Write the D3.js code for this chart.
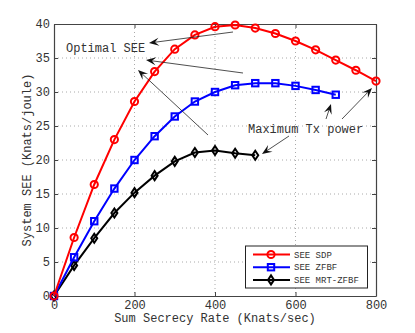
<!DOCTYPE html>
<html lang="en">
<head>
<meta charset="UTF-8">
<script src="https://d3js.org/d3.v7.min.js"></script>
<style>
  body { margin: 0; background: #fff; }
  text { font-family: "Liberation Mono", "DejaVu Sans Mono", monospace; fill: #333; }
</style>
</head>
<body>
<script>
// data
var rateSDP = [0, 50, 100, 150, 200, 250, 300, 350, 400, 450, 500, 550, 600, 650, 700, 750, 800];
var seeSDP = [0, 8.6, 16.4, 23.0, 28.6, 33.0, 36.3, 38.4, 39.6, 39.85, 39.4, 38.6, 37.5, 36.2, 34.7, 33.2, 31.6];
var rateZF = [0, 50, 100, 150, 200, 250, 300, 350, 400, 450, 500, 550, 600, 650, 700];
var seeZF = [0, 5.7, 11.0, 15.8, 20.0, 23.5, 26.4, 28.6, 30.0, 31.0, 31.3, 31.3, 30.9, 30.3, 29.6];
var rateMRT = [0, 50, 100, 150, 200, 250, 300, 350, 400, 450, 500];
var seeMRT = [0, 4.5, 8.5, 12.2, 15.2, 17.7, 19.8, 21.1, 21.4, 21.0, 20.7];
var xTicks = [0, 200, 400, 600, 800];
var yTicks = [0, 5, 10, 15, 20, 25, 30, 35, 40];
var seriesNames = ["SEE SDP", "SEE ZFBF", "SEE MRT-ZFBF"];

var width = 415, height = 333;
var pLeft = 54, pRight = 376, pTop = 24, pBottom = 296;

var svg = d3.select("body").append("svg")
  .attr("width", width).attr("height", height);

var x = d3.scaleLinear().domain([0, 800]).range([pLeft, pRight]);
var y = d3.scaleLinear().domain([0, 40]).range([pBottom, pTop]);

// grid
svg.append("g").selectAll("line").data(xTicks.slice(1, -1)).join("line")
  .attr("x1", d => x(d)).attr("x2", d => x(d)).attr("y1", pTop).attr("y2", pBottom)
  .attr("stroke", "#aaa").attr("stroke-dasharray", "1,3");
svg.append("g").selectAll("line").data(yTicks.slice(1, -1)).join("line")
  .attr("y1", d => y(d)).attr("y2", d => y(d)).attr("x1", pLeft).attr("x2", pRight)
  .attr("stroke", "#aaa").attr("stroke-dasharray", "1,3");

// axes (ticks inside, box all round)
svg.append("g").attr("transform", "translate(0," + pBottom + ")")
  .call(d3.axisBottom(x).tickValues(xTicks).tickSizeInner(-4).tickSizeOuter(0).tickPadding(4));
svg.append("g").attr("transform", "translate(" + pLeft + ",0)")
  .call(d3.axisLeft(y).tickValues(yTicks).tickSizeInner(-4).tickSizeOuter(0).tickPadding(4));
svg.append("g").attr("transform", "translate(0," + pTop + ")")
  .call(d3.axisTop(x).tickValues(xTicks).tickSizeInner(-4).tickSizeOuter(0).tickFormat(""));
svg.append("g").attr("transform", "translate(" + pRight + ",0)")
  .call(d3.axisRight(y).tickValues(yTicks).tickSizeInner(-4).tickSizeOuter(0).tickFormat(""));
svg.selectAll(".domain").attr("stroke", "#444").attr("stroke-width", 1.2);
svg.selectAll(".tick line").attr("stroke", "#444");
svg.selectAll(".tick text").style("font-size", "12px").attr("fill", "#333");

// axis labels
svg.append("text").attr("x", (pLeft + pRight) / 2).attr("y", 322)
  .attr("text-anchor", "middle").style("font-size", "12px").text("Sum Secrecy Rate (Knats/sec)");
svg.append("text").attr("transform", "translate(31," + ((pTop + pBottom) / 2) + ") rotate(-90)")
  .attr("text-anchor", "middle").style("font-size", "12px").text("System SEE (Knats/joule)");

var line = d3.line().x(d => x(d[0])).y(d => y(d[1]));

function marker(g, type, color, cx, cy) {
  if (type === "circle") {
    g.append("circle").attr("cx", cx).attr("cy", cy).attr("r", 3.6)
      .attr("fill", "none").attr("stroke", color).attr("stroke-width", 2);
  } else if (type === "square") {
    g.append("rect").attr("x", cx - 3.2).attr("y", cy - 3.2).attr("width", 6.4).attr("height", 6.4)
      .attr("fill", "none").attr("stroke", color).attr("stroke-width", 2);
  } else {
    g.append("path").attr("d", "M" + cx + "," + (cy - 4.5) + "L" + (cx + 3) + "," + cy + "L" + cx + "," + (cy + 4.5) + "L" + (cx - 3) + "," + cy + "Z")
      .attr("fill", "none").attr("stroke", color).attr("stroke-width", 2);
  }
}

var series = [
  { rate: rateSDP, see: seeSDP, color: "#ff0000", mark: "circle" },
  { rate: rateZF, see: seeZF, color: "#0000ff", mark: "square" },
  { rate: rateMRT, see: seeMRT, color: "#000000", mark: "diamond" }
];

series.slice().reverse().forEach(function (s) {
  var pts = s.rate.map((r, i) => [r, s.see[i]]);
  var g = svg.append("g");
  g.append("path").datum(pts).attr("d", line)
    .attr("fill", "none").attr("stroke", s.color).attr("stroke-width", 2);
  pts.forEach(p => marker(g, s.mark, s.color, x(p[0]), y(p[1])));
});

// annotations
function arrow(x1, y1, x2, y2) {
  var g = svg.append("g");
  var a = Math.atan2(y2 - y1, x2 - x1), L = 10, W = 4;
  var bx = x2 - L * Math.cos(a), by = y2 - L * Math.sin(a);
  var nx = -Math.sin(a), ny = Math.cos(a);
  var mx = x2 - 0.6 * L * Math.cos(a), my = y2 - 0.6 * L * Math.sin(a);
  g.append("line").attr("x1", x1).attr("y1", y1).attr("x2", mx).attr("y2", my)
    .attr("stroke", "#222").attr("stroke-width", 0.8);
  g.append("path")
    .attr("d", "M" + x2 + "," + y2 + "L" + (bx + W * nx) + "," + (by + W * ny) + "L" + mx + "," + my +
      "L" + (bx - W * nx) + "," + (by - W * ny) + "Z")
    .attr("fill", "#111");
}
arrow(233, 32, 149, 43);
arrow(243, 73, 146, 60);
arrow(208, 135, 138, 70);
svg.append("text").attr("x", 66).attr("y", 52).style("font-size", "12px").text("Optimal SEE");

arrow(342, 119, 372, 88);
arrow(326, 119, 331, 104);
arrow(289, 136, 262, 154);
svg.append("text").attr("x", 248).attr("y", 133).style("font-size", "12px").text("Maximum Tx power");

// legend
var lg = svg.append("g");
lg.append("rect").attr("x", 245.5).attr("y", 246).attr("width", 122).attr("height", 42)
  .attr("fill", "#fff").attr("stroke", "#222").attr("stroke-width", 1);
series.forEach(function (s, i) {
  var ly = 254.5 + i * 12.7;
  lg.append("line").attr("x1", 253).attr("x2", 290).attr("y1", ly).attr("y2", ly)
    .attr("stroke", s.color).attr("stroke-width", 2);
  marker(lg, s.mark, s.color, 271, ly);
  lg.append("text").attr("x", 294).attr("y", ly + 3).style("font-size", "9px").text(seriesNames[i]);
});
</script>
</body>
</html>
